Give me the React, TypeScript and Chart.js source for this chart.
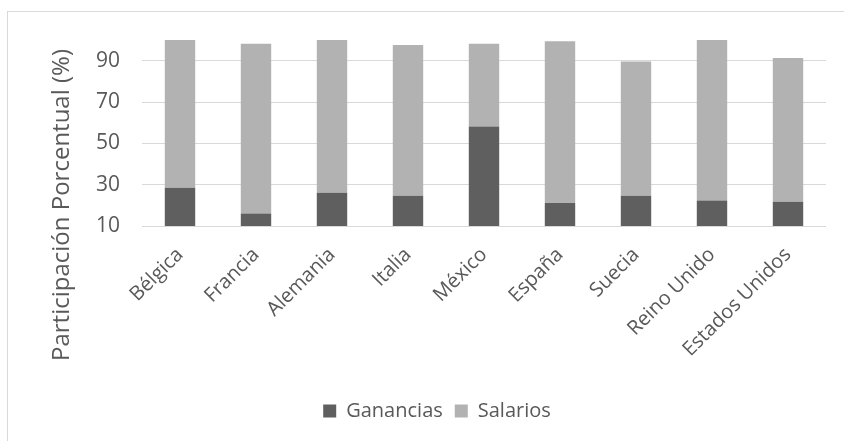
import React, { useEffect, useRef } from "react";
import { Chart, registerables } from "chart.js";

Chart.register(...registerables);

const categories = ["Bélgica", "Francia", "Alemania", "Italia", "México", "España", "Suecia", "Reino Unido", "Estados Unidos"];
const ganancias = [28.5, 16.1, 26.1, 24.6, 58.2, 21.1, 24.6, 22.4, 21.7];
const salarios = [71.6, 82.2, 74.0, 73.1, 40.1, 78.4, 65.1, 77.7, 69.7];
const yTicks = [10, 30, 50, 70, 90];
const yTitle = "Participación Porcentual (%)";

const FONT = "'Open Sans', 'Noto Sans', sans-serif";

const framePlugin = {
  id: "frame",
  beforeDraw(chart: any) {
    const ctx = chart.ctx;
    ctx.save();
    ctx.fillStyle = "#ffffff";
    ctx.fillRect(0, 0, chart.width, chart.height);
    ctx.strokeStyle = "#d9d9d9";
    ctx.lineWidth = 1;
    ctx.strokeRect(7.5, 11.5, 1000, 1000);
    ctx.restore();
  },
  afterDraw(chart: any) {
    const ctx = chart.ctx;
    ctx.save();
    ctx.translate(62, 205);
    ctx.rotate(-Math.PI / 2);
    ctx.fillStyle = "#595959";
    ctx.font = `24px ${FONT}`;
    ctx.textAlign = "center";
    ctx.textBaseline = "middle";
    ctx.fillText(yTitle, 0, 0);
    ctx.restore();
  },
};

export default function App() {
  const ref = useRef<HTMLCanvasElement | null>(null);

  useEffect(() => {
    if (!ref.current) return;
    const chart = new Chart(ref.current, {
      type: "bar",
      data: {
        labels: categories,
        datasets: [
          { label: "Ganancias", data: ganancias, backgroundColor: "#5f5f5f", borderWidth: 0 },
          { label: "Salarios", data: salarios, backgroundColor: "#b2b2b2", borderWidth: 0 },
        ],
      },
      plugins: [framePlugin],
      options: {
        responsive: false,
        animation: false,
        layout: { padding: { left: 48, right: 18, top: 36, bottom: 10 } },
        datasets: { bar: { categoryPercentage: 1, barPercentage: 0.4 } },
        plugins: {
          legend: {
            position: "bottom",
            labels: {
              color: "#595959",
              font: { family: FONT, size: 20 },
              boxWidth: 13,
              boxHeight: 13,
              padding: 12,
            },
          },
          tooltip: { enabled: false },
        },
        scales: {
          x: {
            stacked: true,
            grid: { display: false, drawTicks: false },
            border: { display: false },
            ticks: {
              color: "#595959",
              font: { family: FONT, size: 20 },
              minRotation: 45,
              maxRotation: 45,
              padding: 17,
              autoSkip: false,
            },
            afterFit(scale: any) {
              scale.height = 163;
            },
          },
          y: {
            stacked: true,
            min: 10,
            max: 102,
            grid: { color: "#d9d9d9", lineWidth: 1, drawTicks: false },
            border: { display: false },
            ticks: {
              color: "#595959",
              font: { family: FONT, size: 21 },
              padding: 22,
            },
            afterBuildTicks(scale: any) {
              scale.ticks = yTicks.map((v) => ({ value: v }));
            },
            afterFit(scale: any) {
              scale.width = 94;
            },
          },
        },
      },
    });
    return () => chart.destroy();
  }, []);

  return (
    <div style={{ position: "fixed", left: 0, top: 0, width: 844, height: 441, overflow: "hidden", background: "#fff" }}>
      <canvas ref={ref} width={844} height={441} style={{ display: "block" }} />
    </div>
  );
}
